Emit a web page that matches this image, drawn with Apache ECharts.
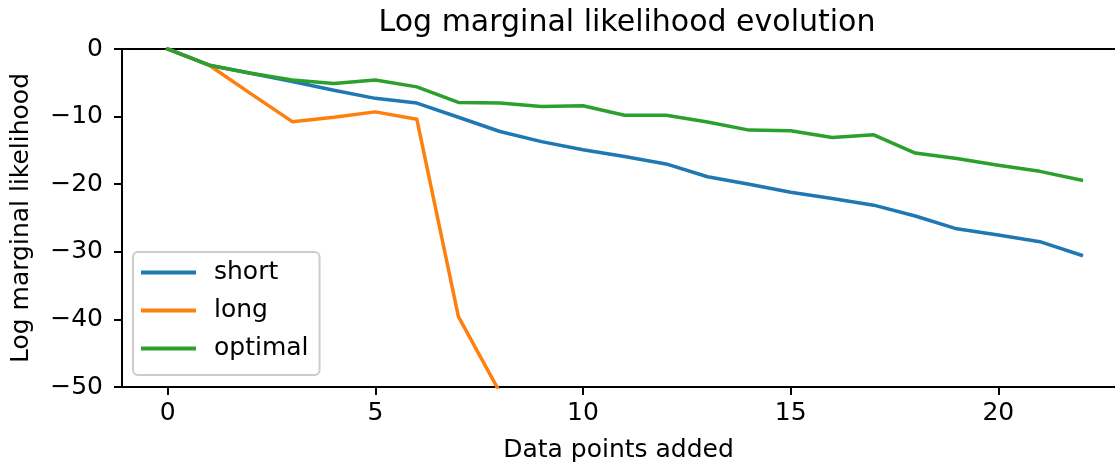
<!DOCTYPE html>
<html>
<head>
<meta charset="utf-8">
<script src="https://cdn.jsdelivr.net/npm/echarts@6/dist/echarts.min.js"></script>
<style>html,body{margin:0;padding:0;background:#fff}#c{width:1115px;height:464px}</style>
</head>
<body>
<div id="c"></div>
<script>
var xValues = [0,1,2,3,4,5,6,7,8,9,10,11,12,13,14,15,16,17,18,19,20,21,22];
var shortVals = [0,-2.4,-3.6,-4.8,-6.1,-7.3,-8.0,-10.1,-12.2,-13.7,-14.9,-15.9,-17.0,-18.9,-20.0,-21.2,-22.1,-23.1,-24.7,-26.6,-27.5,-28.5,-30.5];
var longVals = [0,-2.4,-6.6,-10.75,-10.1,-9.3,-10.4,-39.6,-50.8,null,null,null,null,null,null,null,null,null,null,null,null,null,null];
var optimalVals = [0,-2.4,-3.6,-4.6,-5.1,-4.6,-5.6,-7.9,-8.0,-8.5,-8.4,-9.8,-9.8,-10.8,-12.0,-12.1,-13.1,-12.7,-15.4,-16.2,-17.2,-18.1,-19.4];
var xTicks = [0,5,10,15,20];
var seriesNames = ['short','long','optimal'];
var colors = ['#1f77b4','#ff7f0e','#2ca02c'];

function pairs(vals){ return xValues.map(function(x,i){ return [x, vals[i]]; }); }
var font = 'DejaVu Sans';
var chart = echarts.init(document.getElementById('c'), null, {renderer:'canvas'});
var allVals = [shortVals, longVals, optimalVals];
chart.setOption({
  animation: false,
  backgroundColor: '#ffffff',
  title: {
    text: 'Log marginal likelihood evolution',
    left: 622, top: 3, textAlign: 'center',
    textStyle: {fontFamily: font, fontSize: 30, fontWeight: 'normal', color: '#000'}
  },
  grid: {left: 122, top: 49, right: 0, bottom: 77, show: false, outerBoundsMode: 'none', containLabel: false},
  legend: {
    orient: 'vertical', left: 133, top: 252,
    data: seriesNames,
    icon: 'rect', itemWidth: 55, itemHeight: 4, itemGap: 13,
    padding: [8, 11, 14, 8],
    backgroundColor: 'rgba(255,255,255,0.8)',
    borderColor: '#cccccc', borderWidth: 2, borderRadius: 5,
    textStyle: {fontFamily: font, fontSize: 25, color: '#000', lineHeight: 25, padding: [0,0,0,13]}
  },
  xAxis: [{
    type: 'value', min: -1.1, max: 22.81,
    name: 'Data points added', nameLocation: 'middle', nameGap: 51,
    nameTextStyle: {fontFamily: font, fontSize: 25, color: '#000'},
    axisLine: {show: true, onZero: false, lineStyle: {color: '#000', width: 2}},
    axisTick: {show: true, length: 8, lineStyle: {color: '#000', width: 2}, customValues: xTicks},
    axisLabel: {fontFamily: font, fontSize: 25, color: '#000', margin: 14, customValues: xTicks},
    splitLine: {show: false}
  }, {
    type: 'value', min: -1.1, max: 22.81, position: 'top',
    axisLine: {show: true, onZero: false, lineStyle: {color: '#000', width: 2}},
    axisTick: {show: false}, axisLabel: {show: false}, splitLine: {show: false}
  }],
  yAxis: {
    type: 'value', min: -50, max: 0, interval: 10,
    name: 'Log marginal likelihood', nameLocation: 'middle', nameGap: 88, nameRotate: 90,
    nameTextStyle: {fontFamily: font, fontSize: 25, color: '#000'},
    axisLine: {show: true, onZero: false, lineStyle: {color: '#000', width: 2}},
    axisTick: {show: true, length: 8, lineStyle: {color: '#000', width: 2}},
    axisLabel: {fontFamily: font, fontSize: 25, color: '#000', margin: 19,
      formatter: function(v){ return String(v).replace('-', '\u2212'); }},
    splitLine: {show: false}
  },
  series: seriesNames.map(function(n, i){
    return {
      name: n, type: 'line', data: pairs(allVals[i]), showSymbol: false, symbol: 'none',
      clip: true, connectNulls: false, xAxisIndex: 0,
      color: colors[i],
      lineStyle: {color: colors[i], width: 3.5, cap: 'square', join: 'round'},
      itemStyle: {color: colors[i]}
    };
  })
});
</script>
</body>
</html>
